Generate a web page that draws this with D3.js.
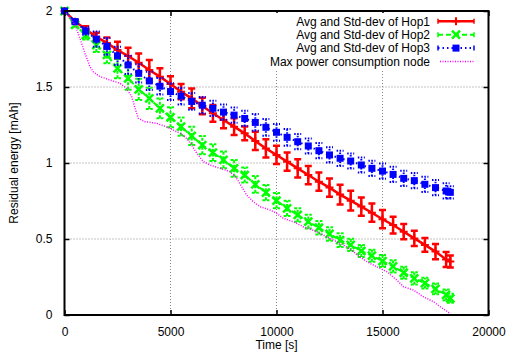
<!DOCTYPE html>
<html lang="en">
<head>
    <meta charset="UTF-8">
    <title>Residual energy</title>
    <script src="https://d3js.org/d3.v7.min.js"></script>
    <style>
        body { margin: 0; background: white; }
        text { font-family: "Liberation Sans", Arial, sans-serif; font-size: 12px; fill: #000; }
    </style>
</head>
<body>
    <div id="chart"></div>
    <script>
        // Sample times [s]
        const times = [0, 500, 1000, 1500, 2000, 2500, 3000, 3500, 4000, 4500, 5000, 5500, 6000, 6500,
            7000, 7500, 8000, 8500, 9000, 9500, 10000, 10500, 11000, 11500, 12000, 12500, 13000, 13500,
            14000, 14500, 15000, 15500, 16000, 16500, 17000, 17500, 18000, 18200];

        // Hop1 / Hop2 / Hop3 mean residual energy [mAh] and std-dev
        const hop1Mean = [2.0, 1.93, 1.88, 1.83, 1.79, 1.743, 1.704, 1.66, 1.612, 1.568, 1.52, 1.469, 1.425, 1.375,
            1.327, 1.283, 1.239, 1.195, 1.145, 1.096, 1.053, 1.009, 0.965, 0.921, 0.877, 0.838, 0.792, 0.752,
            0.713, 0.673, 0.63, 0.592, 0.548, 0.504, 0.461, 0.417, 0.365, 0.352];
        const hop1Std = [0, 0.01, 0.02, 0.027, 0.035, 0.055, 0.055, 0.06, 0.065, 0.055, 0.05, 0.05, 0.065, 0.055,
            0.055, 0.055, 0.055, 0.045, 0.06, 0.06, 0.06, 0.06, 0.06, 0.06, 0.06, 0.06, 0.065, 0.065,
            0.06, 0.06, 0.06, 0.055, 0.05, 0.05, 0.045, 0.05, 0.05, 0.04];

        const hop2Mean = [2.0, 1.908, 1.842, 1.776, 1.711, 1.623, 1.557, 1.485, 1.425, 1.36, 1.301, 1.239, 1.178, 1.118,
            1.068, 1.02, 0.965, 0.921, 0.86, 0.805, 0.752, 0.702, 0.658, 0.614, 0.574, 0.533, 0.493, 0.461,
            0.421, 0.39, 0.355, 0.32, 0.278, 0.241, 0.21, 0.172, 0.132, 0.11];
        const hop2Std = [0, 0.015, 0.03, 0.045, 0.055, 0.065, 0.075, 0.07, 0.07, 0.065, 0.065, 0.06, 0.06, 0.06,
            0.055, 0.055, 0.055, 0.05, 0.055, 0.05, 0.05, 0.05, 0.045, 0.045, 0.045, 0.045, 0.045, 0.04,
            0.04, 0.04, 0.04, 0.04, 0.04, 0.04, 0.035, 0.035, 0.035, 0.03];

        const hop3Mean = [2.0, 1.93, 1.868, 1.815, 1.767, 1.705, 1.645, 1.59, 1.54, 1.505, 1.47, 1.44, 1.405, 1.38,
            1.36, 1.335, 1.315, 1.293, 1.267, 1.235, 1.202, 1.169, 1.14, 1.112, 1.081, 1.053, 1.031, 1.013,
            0.987, 0.965, 0.947, 0.925, 0.899, 0.884, 0.86, 0.838, 0.816, 0.807];
        const hop3Std = [0, 0.012, 0.025, 0.05, 0.055, 0.06, 0.06, 0.06, 0.06, 0.055, 0.055, 0.055, 0.055, 0.055,
            0.05, 0.05, 0.05, 0.05, 0.055, 0.055, 0.055, 0.055, 0.05, 0.05, 0.05, 0.05, 0.05, 0.05,
            0.05, 0.05, 0.05, 0.05, 0.05, 0.05, 0.05, 0.05, 0.05, 0.04];

        // Max power consumption node
        const maxTime = [0, 500, 730, 970, 1200, 1360, 1680, 2150, 2620, 2930, 3170, 3330, 3480, 3800, 4350,
            4980, 5450, 5760, 6000, 6240, 6550, 6860, 7340, 7810, 8120, 8360, 8590, 8900, 9220, 9690,
            10010, 10320, 10790, 11260, 11900, 12520, 13150, 13620, 13940, 14410, 14880, 15200, 15670,
            15990, 16460, 16930, 17400, 17710, 18180];
        const maxEnergy = [2.0, 1.908, 1.82, 1.72, 1.634, 1.6, 1.568, 1.546, 1.524, 1.491, 1.436, 1.36, 1.294, 1.272, 1.261,
            1.228, 1.195, 1.162, 1.118, 1.064, 1.009, 0.987, 0.965, 0.943, 0.899, 0.844, 0.789, 0.746, 0.713, 0.691,
            0.669, 0.636, 0.614, 0.581, 0.548, 0.504, 0.461, 0.417, 0.38, 0.34, 0.307, 0.285, 0.23,
            0.186, 0.164, 0.12, 0.088, 0.055, 0.011];

        const xTicks = [0, 5000, 10000, 15000, 20000];
        const yTicks = [0, 0.5, 1, 1.5, 2];
        const yTickLabels = ["0", "0.5", "1", "1.5", "2"];
        const legendLabels = ["Avg and Std-dev of Hop1", "Avg and Std-dev of Hop2", "Avg and Std-dev of Hop3", "Max power consumption node"];

        const width = 509, height = 360;
        const margin = { left: 64.5, right: 20.5, top: 11, bottom: 45 };

        const x = d3.scaleLinear().domain([0, 20000]).range([margin.left, width - margin.right]);
        const y = d3.scaleLinear().domain([0, 2]).range([height - margin.bottom, margin.top]);

        const svg = d3.select("#chart").append("svg").attr("width", width).attr("height", height);

        // grid
        const grid = svg.append("g").attr("stroke", "#888").attr("stroke-width", 1).attr("stroke-dasharray", "1,2");
        grid.selectAll(".gx").data(xTicks.slice(1, -1)).enter().append("line")
            .attr("x1", d => x(d)).attr("x2", d => x(d)).attr("y1", y(0)).attr("y2", y(2));
        grid.selectAll(".gy").data(yTicks.slice(1, -1)).enter().append("line")
            .attr("x1", x(0)).attr("x2", x(20000)).attr("y1", d => y(d)).attr("y2", d => y(d));

        // axes with inward ticks, mirrored
        const axisStyle = g => {
            g.select(".domain").remove();
            g.selectAll(".tick line").attr("stroke", "#000").attr("stroke-width", 1.5);
            g.selectAll("text").style("font-size", "12px").style("font-family", '"Liberation Sans", Arial, sans-serif');
        };
        svg.append("g").attr("transform", `translate(0,${y(0)})`)
            .call(d3.axisBottom(x).tickValues(xTicks).tickSize(-5).tickPadding(12).tickFormat(d3.format("d")))
            .call(axisStyle);
        svg.append("g").attr("transform", `translate(0,${y(2)})`)
            .call(d3.axisTop(x).tickValues(xTicks).tickSize(-5).tickFormat(""))
            .call(axisStyle);
        svg.append("g").attr("transform", `translate(${x(0)},0)`)
            .call(d3.axisLeft(y).tickValues(yTicks).tickSize(-5).tickPadding(12).tickFormat((d, i) => yTickLabels[i]))
            .call(axisStyle);
        svg.append("g").attr("transform", `translate(${x(20000)},0)`)
            .call(d3.axisRight(y).tickValues(yTicks).tickSize(-5).tickFormat(""))
            .call(axisStyle);

        // series
        const series = [
            { mean: hop1Mean, std: hop1Std, color: "#ff0000", width: 2.5, dash: null, barDash: null, marker: "plus" },
            { mean: hop2Mean, std: hop2Std, color: "#00ff00", width: 2, dash: "5,3", barDash: "3,1.5", marker: "cross" },
            { mean: hop3Mean, std: hop3Std, color: "#0000ff", width: 2, dash: "1.5,3", barDash: "1.5,1.5", marker: "square" }
        ];

        const plot = svg.append("g");
        const line = d3.line().x(d => x(d[0])).y(d => y(d[1]));

        function drawMarker(g, type, cx, cy, color) {
            if (type === "plus") {
                g.append("path").attr("d", `M${cx - 4},${cy}H${cx + 4}M${cx},${cy - 4}V${cy + 4}`)
                    .attr("stroke", color).attr("stroke-width", 2).attr("fill", "none");
            } else if (type === "cross") {
                g.append("path").attr("d", `M${cx - 4},${cy - 4}L${cx + 4},${cy + 4}M${cx - 4},${cy + 4}L${cx + 4},${cy - 4}`)
                    .attr("stroke", color).attr("stroke-width", 2.5).attr("fill", "none");
            } else {
                g.append("rect").attr("x", cx - 3.5).attr("y", cy - 3.5).attr("width", 7).attr("height", 7)
                    .attr("fill", color);
            }
        }

        series.forEach(s => {
            const g = plot.append("g");
            const pts = times.map((t, i) => [t, s.mean[i]]);
            g.append("path").datum(pts).attr("d", line)
                .attr("fill", "none").attr("stroke", s.color).attr("stroke-width", s.width)
                .attr("stroke-dasharray", s.dash);
            times.forEach((t, i) => {
                const cx = x(t), lo = y(s.mean[i] - s.std[i]), hi = y(s.mean[i] + s.std[i]);
                g.append("path").attr("d", `M${cx},${lo}V${hi}M${cx - 3.5},${lo}H${cx + 3.5}M${cx - 3.5},${hi}H${cx + 3.5}`)
                    .attr("stroke", s.color).attr("stroke-width", s.width).attr("fill", "none")
                    .attr("stroke-dasharray", s.barDash);
                drawMarker(g, s.marker, cx, y(s.mean[i]), s.color);
            });
        });

        plot.append("path").datum(maxTime.map((t, i) => [t, maxEnergy[i]])).attr("d", line)
            .attr("fill", "none").attr("stroke", "#ff00ff").attr("stroke-width", 1.5)
            .attr("stroke-dasharray", "1,1.5");

        // legend (opaque)
        const legend = svg.append("g");
        legend.append("rect").attr("x", 262).attr("y", 13).attr("width", 224).attr("height", 56).attr("fill", "white");
        legendLabels.forEach((label, i) => {
            const cy = 21.3 + 13.4 * i;
            legend.append("text").attr("x", 430).attr("y", cy + 4.3).attr("text-anchor", "end").text(label);
            if (i < 3) {
                const s = series[i];
                legend.append("path").attr("d", `M438,${cy}H474`).attr("stroke", s.color)
                    .attr("stroke-width", s.width).attr("stroke-dasharray", s.dash);
                legend.append("path").attr("d", `M438,${cy - 2.5}V${cy + 2.5}M474,${cy - 2.5}V${cy + 2.5}`)
                    .attr("stroke", s.color).attr("stroke-width", 1.5);
                drawMarker(legend, s.marker, 456, cy, s.color);
            } else {
                legend.append("path").attr("d", `M440,${cy}H474`).attr("stroke", "#ff00ff")
                    .attr("stroke-width", 1.5).attr("stroke-dasharray", "1,1.5");
            }
        });

        // frame
        svg.append("rect").attr("x", x(0)).attr("y", y(2)).attr("width", x(20000) - x(0)).attr("height", y(0) - y(2))
            .attr("fill", "none").attr("stroke", "#000").attr("stroke-width", 2);

        // axis labels
        svg.append("text").attr("x", (x(0) + x(20000)) / 2).attr("y", 349).attr("text-anchor", "middle").text("Time [s]");
        svg.append("text").attr("transform", `translate(18,${(y(0) + y(2)) / 2}) rotate(-90)`)
            .attr("text-anchor", "middle").text("Residual energy [mAh]");
    </script>
</body>
</html>
